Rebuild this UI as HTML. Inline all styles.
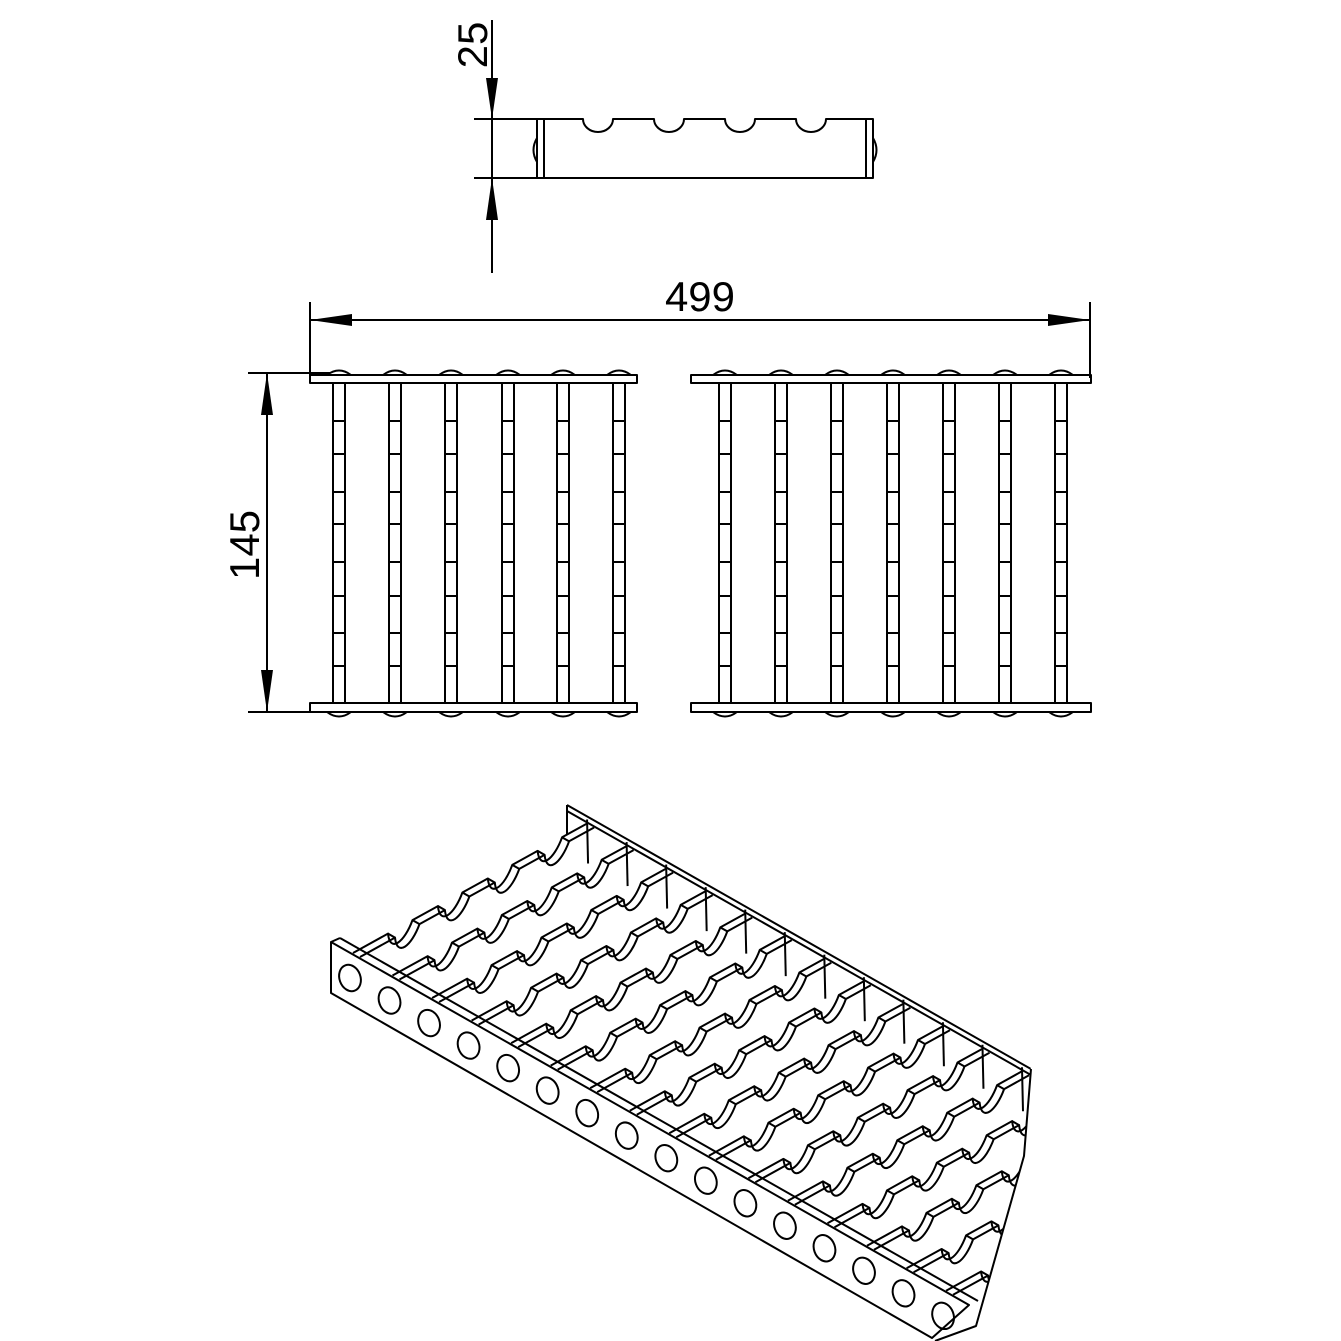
<!DOCTYPE html>
<html><head><meta charset="utf-8"><style>
html,body{margin:0;padding:0;background:#fff;}
svg{display:block;}
text{font-family:"Liberation Sans Narrow","Liberation Sans",sans-serif;}
</style></head><body>
<svg id="s" width="1341" height="1341" viewBox="0 0 1341 1341" xmlns="http://www.w3.org/2000/svg">
<g id="g" fill="none" stroke="#000" stroke-width="2" stroke-linejoin="round">
<line x1="492" y1="20" x2="492" y2="273"/>
<line x1="474" y1="119" x2="537" y2="119"/>
<line x1="474" y1="178" x2="537" y2="178"/>
<polygon points="486,78 498,78 492,119" fill="#000" stroke="none"/>
<polygon points="486,220 498,220 492,178" fill="#000" stroke="none"/>
<text x="0" y="0" transform="translate(487,45) rotate(-90)" font-size="42" text-anchor="middle" fill="#000" stroke="none">25</text>
<path d="M537,119 H583 A15,13 0 0 0 613,119 H654 A15,13 0 0 0 684,119 H725 A15,13 0 0 0 755,119 H796 A15,13 0 0 0 826,119 H873 V178 H537 Z"/>
<line x1="544" y1="119" x2="544" y2="178"/>
<line x1="866" y1="119" x2="866" y2="178"/>
<path d="M537,138 Q530,150 537,162"/>
<path d="M873,138 Q880,150 873,162"/>
<line x1="310" y1="302" x2="310" y2="378"/>
<line x1="1090" y1="302" x2="1090" y2="378"/>
<line x1="310" y1="320" x2="1090" y2="320"/>
<polygon points="310,320 352,314 352,326" fill="#000" stroke="none"/>
<polygon points="1090,320 1048,314 1048,326" fill="#000" stroke="none"/>
<text x="700" y="311" font-size="42" text-anchor="middle" fill="#000" stroke="none">499</text>
<line x1="248" y1="373" x2="330" y2="373"/>
<line x1="248" y1="712" x2="320" y2="712"/>
<line x1="267" y1="373" x2="267" y2="712"/>
<polygon points="267,373 261,415 273,415" fill="#000" stroke="none"/>
<polygon points="267,712 261,670 273,670" fill="#000" stroke="none"/>
<text x="0" y="0" transform="translate(259,545) rotate(-90)" font-size="42" text-anchor="middle" fill="#000" stroke="none">145</text>
</g>
</svg>
<script>
(function(){
var g=document.getElementById('g');var NS='http://www.w3.org/2000/svg';
function el(t,a){var e=document.createElementNS(NS,t);for(var k in a)e.setAttribute(k,a[k]);g.appendChild(e);return e;}
var ticks=[421,454,492,524,562,596,633,666];
function section(x0,x1,bars){
 el('rect',{x:x0,y:375,width:x1-x0,height:8});
 el('rect',{x:x0,y:703,width:x1-x0,height:9});
 bars.forEach(function(b){
  el('rect',{x:b,y:383,width:12,height:320});
  el('path',{d:'M'+(b-6)+',375 Q'+(b+6)+',366 '+(b+18)+',375'});
  el('path',{d:'M'+(b-6)+',712 Q'+(b+6)+',721 '+(b+18)+',712'});
  ticks.forEach(function(t){el('line',{x1:b,y1:t,x2:b+12,y2:t});});
 });
}
section(310,637,[333,389,445,502,557,613]);
section(691,1091,[719,775,831,887,943,999,1055]);
var defs=document.createElementNS(NS,'defs');
defs.innerHTML='<clipPath id="cp"><polygon points="331,935 567,800 1031,1066 1024,1156 976,1326 935,1341 320,1000"/></clipPath>';
document.getElementById('s').appendChild(defs);
var gi=document.createElementNS(NS,'g');gi.setAttribute('clip-path','url(#cp)');g.appendChild(gi);
function e2(t,a){var e=document.createElementNS(NS,t);for(var k in a)e.setAttribute(k,a[k]);gi.appendChild(e);return e;}
var u=[0.869,0.495],v=[0.875,-0.484],S=45.5,L=267.5;
function P(p){return p[0].toFixed(1)+','+p[1].toFixed(1);}
function add(a,b,k){return [a[0]+b[0]*k,a[1]+b[1]*k];}
var F0=[353,953],T=[7,4];
var notches=[54,111,168,225],nw=14;
for(var i=0;i<16;i++){
 var F=add(F0,u,S*i);
 [[0,0],T].forEach(function(off,j){
  var st=[F[0]+off[0],F[1]+off[1]];
  var d='M'+P(st);
  notches.forEach(function(n){
   var a=add(st,v,n-nw),b=add(st,v,n+nw);
   d+=' L'+P(a)+' C'+P([a[0]+2,a[1]+20])+' '+P([b[0]-8,b[1]+22])+' '+P(b);
  });
  d+=' L'+P(add(st,v,L));
  e2('path',{d:d});
 });
 notches.forEach(function(n){
  [n-nw,n+nw].forEach(function(q){var a=add(F,v,q);e2('line',{x1:a[0],y1:a[1],x2:a[0]+T[0],y2:a[1]+T[1]});});
 });
 var B=add(F,v,L);
 e2('line',{x1:B[0],y1:B[1]-4,x2:B[0]+1,y2:B[1]+40});
}
e2('line',{x1:567,y1:805,x2:1031,y2:1069});
e2('line',{x1:567,y1:811,x2:1031,y2:1075});
e2('line',{x1:567,y1:805,x2:567,y2:834});
el('path',{d:'M1031,1069 L1024,1156 L976,1326 L935,1341'});
el('path',{d:'M331,942 L969,1305 L932,1338 L331,993 Z',fill:'#fff'});
el('line',{x1:340,y1:938,x2:978,y2:1301});
el('line',{x1:331,y1:942,x2:340,y2:938});
for(var h=0;h<16;h++){
 var c=add([350,978],u,S*h);
 el('ellipse',{cx:c[0],cy:c[1],rx:10.5,ry:13.5,transform:'rotate(-20 '+c[0]+' '+c[1]+')'});
}
})();
</script>
</body></html>
